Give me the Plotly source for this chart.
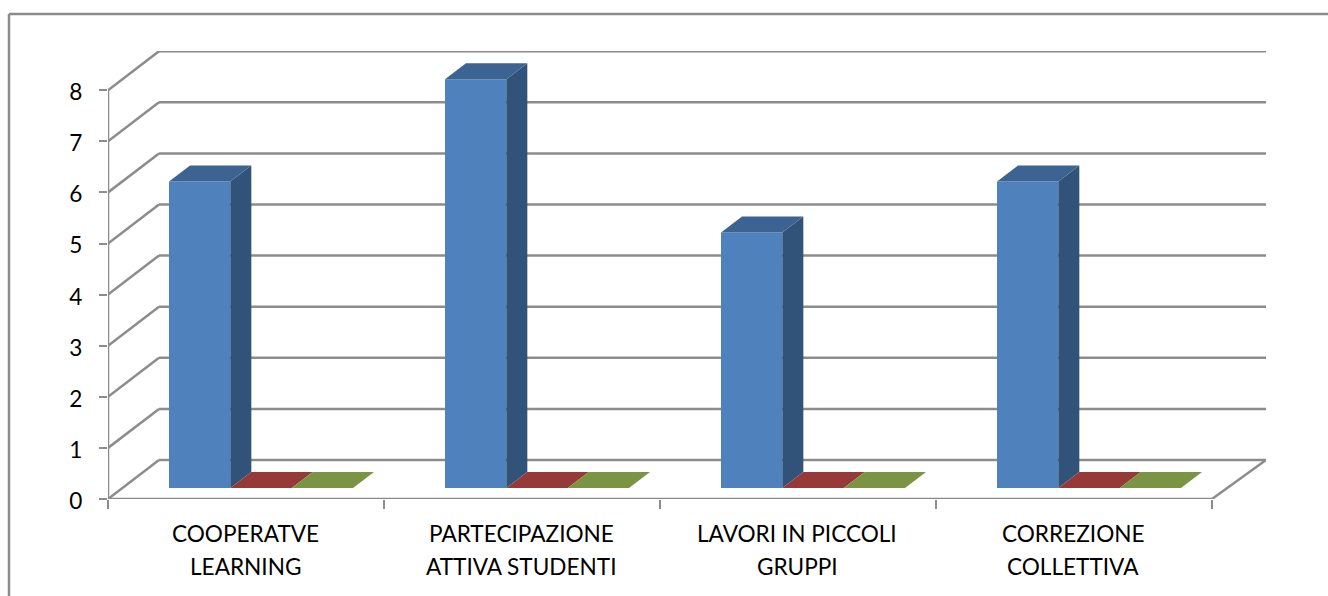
import plotly.graph_objects as go

categories = ["COOPERATVE\nLEARNING", "PARTECIPAZIONE\nATTIVA STUDENTI", "LAVORI IN PICCOLI\nGRUPPI", "CORREZIONE\nCOLLETTIVA"]
series_1 = [6, 8, 5, 6]
series_2 = [0, 0, 0, 0]
series_3 = [0, 0, 0, 0]
y_ticks = [0, 1, 2, 3, 4, 5, 6, 7, 8]

W, H = 1328, 596
X0, Y0 = 108, 499          # pixel origin of the front corner
UX, UY = 276.0, 51.1       # pixels per category / per value
BACK_R = 1266
BACK_DY = 39 / UY
BACK_DXL = 51 / UX
BACK_DXR = 54 / UX
BAR_W = 61.33 / UX
BAR_START = 61 / UX
BAR_BASE = 11 / UY
BAR_DX = 21 / UX
BAR_DY = 16 / UY

GRID = "#8c8c8c"
LINE_W = 2.5
FONT = dict(family="Lato, 'Open Sans', sans-serif", size=22.6, color="#000000")

series = [
    (series_1, "#4F81BD", "#3C6391", "#31537A"),
    (series_2, "#C0504D", "#953A38", "#7A2F2D"),
    (series_3, "#9BBB59", "#7A9443", "#637836"),
]

fig = go.Figure()
shapes = []

def seg(x0, y0, x1, y1, ref="", width=LINE_W, color=GRID):
    xr, yr = ("x", "y") if not ref else (ref, ref)
    shapes.append(dict(type="line", xref=xr, yref=yr, x0=x0, y0=y0, x1=x1, y1=y1,
                       layer="below", line=dict(color=color, width=width)))

# walls and floor
for v in y_ticks:
    seg(0, v, BACK_DXL, v + BACK_DY)
    seg(BACK_DXL, v + BACK_DY, len(categories) + BACK_DXR, v + BACK_DY)
seg(0, 0, 0, y_ticks[-1])
seg(0, 0, len(categories), 0)
seg(len(categories), 0, len(categories) + BACK_DXR, BACK_DY)

# chart frame, running off the right and bottom of the page
pw, ph = BACK_R - X0, Y0 - 51
px = lambda p: (p - X0) / pw
py = lambda p: (Y0 - p) / ph
seg(px(9), py(14), px(W + 5), py(14), ref="paper")
seg(px(9), py(14), px(9), py(H + 5), ref="paper")

# front faces
for s, (vals, front, top, side) in enumerate(series):
    fig.add_trace(go.Bar(
        x=[i + BAR_START + BAR_W * (s + 0.5) for i in range(len(vals))],
        y=vals, base=BAR_BASE, width=BAR_W, cliponaxis=False,
        marker=dict(color=front, line=dict(width=0)), hoverinfo="skip", showlegend=False))

# depth faces
def poly(xs, ys, color):
    fig.add_trace(go.Scatter(x=xs, y=ys, mode="lines", fill="toself", fillcolor=color,
                             line=dict(width=0, color=color), cliponaxis=False,
                             hoverinfo="skip", showlegend=False))

for s, (vals, front, top, side) in enumerate(series):
    for i, v in enumerate(vals):
        xl = i + BAR_START + BAR_W * s
        xr = xl + BAR_W
        yb = BAR_BASE
        yt = BAR_BASE + v
        if v > 0:
            poly([xr, xr + BAR_DX, xr + BAR_DX, xr, xr],
                 [yb, yb + BAR_DY, yt + BAR_DY, yt, yb], side)
        poly([xl, xr, xr + BAR_DX, xl + BAR_DX, xl],
             [yt, yt, yt + BAR_DY, yt + BAR_DY, yt], top)

# category labels, two lines each with the original's wide line spacing
annotations = []
for i, c in enumerate(categories):
    for line, py_label in zip(c.split("\n"), (533, 566)):
        annotations.append(dict(text=line, x=i + 0.5, xref="x", y=py(py_label), yref="paper", xshift=-1,
                                showarrow=False, font=FONT, xanchor="center", yanchor="middle"))

fig.update_layout(
    width=W, height=H, autosize=False,
    margin=dict(l=X0, r=W - BACK_R, t=51, b=H - Y0, pad=0),
    paper_bgcolor="white", plot_bgcolor="rgba(0,0,0,0)",
    barmode="overlay", showlegend=False,
    shapes=shapes, annotations=annotations,
    xaxis=dict(range=[0, (BACK_R - X0) / UX], showgrid=False, zeroline=False, showline=False,
               tickmode="array", tickvals=list(range(len(categories) + 1)), showticklabels=False,
               ticks="outside", ticklen=9, tickwidth=2, tickcolor=GRID),
    yaxis=dict(range=[0, (Y0 - 51) / UY], showgrid=False, zeroline=False, showline=False,
               tickmode="array", tickvals=y_ticks, ticktext=[str(t) for t in y_ticks],
               ticks="outside", ticklen=8, tickwidth=2, tickcolor=GRID,
               tickfont=FONT, ticklabelstandoff=12, ticklabelshift=2),
)

fig.write_html("out.html", config=dict(displayModeBar=False),
               post_script="document.body.style.margin='0';document.body.style.overflow='hidden';")
